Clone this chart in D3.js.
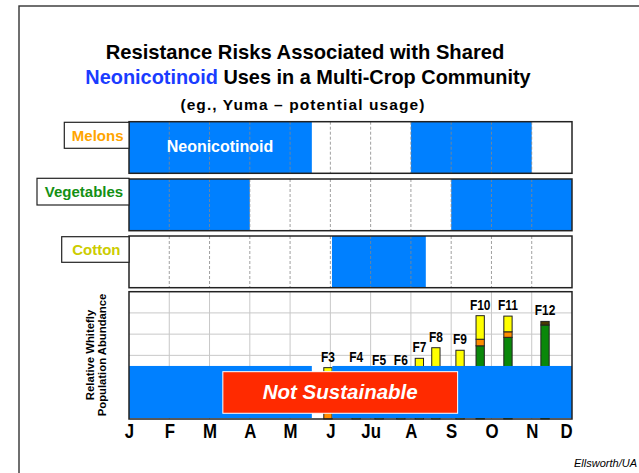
<!DOCTYPE html>
<html><head><meta charset="utf-8">
<script src="https://cdn.jsdelivr.net/npm/d3@7"></script>
<style>body{margin:0;background:#fff}svg{display:block}text{font-family:Arial,"Liberation Sans",sans-serif}</style>
</head><body>
<script>
const months = ["J","F","M","A","M","J","Ju","A","S","O","N","D"];
const crops = ["Melons","Vegetables","Cotton"];
const cropColors = ["#ffa500","#139013","#cccc00"];
const melonsUse = [[0,4.54],[7,10]];
const vegetablesUse = [[0,3],[8,11]];
const cottonUse = [[5.04,7.37]];
const cropUses = [melonsUse, vegetablesUse, cottonUse];
const bandUse = [[0,4.54],[5.05,11]];
const bandTop = 2.5;
const flushLabels = ["F3","F4","F5","F6","F7","F8","F9","F10","F11","F12"];
const flushPos   = [4.94,5.64,6.21,6.75,7.21,7.62,8.22,8.72,9.41,10.33];
const greenVals  = [0,0,0,0,0,0,0,3.45,3.85,4.43];
const orangeVals = [1.2,0,0,0,0,0,0,0.31,0.26,0];
const yellowVals = [1.22,2.42,2.24,2.24,2.86,3.36,3.24,1.11,0.74,0];
const darkVals   = [0,0,0,0,0,0,0,0,0,0.17];

const W=639,H=473;
const svg=d3.select("body").append("svg").attr("width",W).attr("height",H);
const BLUE="#0080ff";

// frame
svg.append("rect").attr("x",19).attr("y",6).attr("width",700).attr("height",600)
  .attr("fill","none").attr("stroke","#333").attr("stroke-width",1.4);

// title
const t=svg.append("g").attr("text-anchor","middle").attr("font-weight","bold");
t.append("text").attr("x",305).attr("y",59).attr("font-size",20.2).text("Resistance Risks Associated with Shared");
const l2=t.append("text").attr("x",308).attr("y",84).attr("font-size",19.9);
l2.append("tspan").attr("fill","#1a3cff").text("Neonicotinoid");
l2.append("tspan").text(" Uses in a Multi-Crop Community");
t.append("text").attr("x",303).attr("y",110).attr("font-size",15.5).attr("letter-spacing",1.1)
  .text("(eg., Yuma \u2013 potential usage)");

const x=d3.scaleLinear().domain([0,11]).range([129,572]);
const panels=[[121.7,173.3],[179,230.7],[236,287.7]];
const labelBoxes=[[64.3,122.3,148.3],[37,178.3,205],[61.7,236.7,262.3]];

crops.forEach((c,i)=>{
  const [y0,y1]=panels[i];
  const g=svg.append("g");
  g.selectAll("rect.use").data(cropUses[i]).join("rect")
    .attr("x",d=>x(d[0])).attr("width",d=>x(d[1])-x(d[0]))
    .attr("y",y0).attr("height",y1-y0).attr("fill",BLUE);
  g.selectAll("line.grid").data(d3.range(1,11)).join("line")
    .attr("x1",d=>x(d)).attr("x2",d=>x(d)).attr("y1",y0).attr("y2",y1)
    .attr("stroke","#888").attr("stroke-width",0.8).attr("stroke-dasharray","3,2");
  g.append("rect").attr("x",x(0)).attr("y",y0).attr("width",x(11)-x(0)).attr("height",y1-y0)
    .attr("fill","none").attr("stroke","#222").attr("stroke-width",1.5);
  const [bx,by0,by1]=labelBoxes[i];
  g.append("rect").attr("x",bx).attr("y",by0).attr("width",x(0)-bx).attr("height",by1-by0)
    .attr("fill","#fff").attr("stroke","#222").attr("stroke-width",1.2);
  g.append("text").attr("x",(bx+x(0))/2+1).attr("y",(by0+by1)/2+5.5)
    .attr("text-anchor","middle").attr("font-weight","bold").attr("font-size",15)
    .attr("fill",cropColors[i]).text(c);
});
svg.append("text").attr("x",220).attr("y",152).attr("text-anchor","middle")
  .attr("font-weight","bold").attr("font-size",16).attr("fill","#fff").text("Neonicotinoid");

// bottom panel
const yb=d3.scaleLinear().domain([0,6]).range([419,291.7]);
const bp=svg.append("g");
bp.selectAll("line.h").data(d3.range(1,6)).join("line")
  .attr("x1",x(0)).attr("x2",x(11)).attr("y1",d=>yb(d)).attr("y2",d=>yb(d))
  .attr("stroke","#c8c8c8").attr("stroke-width",1);
bp.selectAll("line.v").data(d3.range(1,11)).join("line")
  .attr("x1",d=>x(d)).attr("x2",d=>x(d)).attr("y1",yb(6)).attr("y2",yb(0))
  .attr("stroke","#c8c8c8").attr("stroke-width",1);

const barW=8.3;
const stacks=flushLabels.map((f,i)=>{
  const segs=[];let b=0;
  [[greenVals[i],"#0a880a"],[orangeVals[i],"#ff8c00"],[yellowVals[i],"#ffff00"],[darkVals[i],"#4a3a00"]]
    .forEach(([v,col])=>{ if(v>0){segs.push({b,t:b+v,col,pos:flushPos[i]}); b+=v;} });
  return {f,pos:flushPos[i],total:b,segs};
});
stacks.forEach(s=>{
  bp.selectAll(null).data(s.segs).join("rect")
    .attr("x",d=>x(d.pos)-barW/2).attr("width",barW)
    .attr("y",d=>yb(d.t)).attr("height",d=>yb(d.b)-yb(d.t))
    .attr("fill",d=>d.col).attr("stroke","#222").attr("stroke-width",1);
});
bp.selectAll("rect.band").data(bandUse).join("rect")
  .attr("x",d=>x(d[0])).attr("width",d=>x(d[1])-x(d[0]))
  .attr("y",yb(bandTop)).attr("height",yb(0)-yb(bandTop)-1).attr("fill",BLUE);
bp.selectAll("text.fl").data(stacks).join("text")
  .attr("transform",d=>`translate(${x(d.pos)},${yb(d.total)-6}) scale(0.92,1.1)`)
  .attr("text-anchor","middle").attr("font-weight","bold").attr("font-size",13)
  .text(d=>d.f);
// Not sustainable box
bp.append("rect").attr("x",x(2.33)).attr("y",yb(2.23)).attr("width",x(8.16)-x(2.33)).attr("height",yb(0.27)-yb(2.23))
  .attr("fill","#ff2a00").attr("stroke","#fff").attr("stroke-width",1);
bp.append("text").attr("x",(x(2.33)+x(8.16))/2).attr("y",398.5).attr("text-anchor","middle")
  .attr("font-weight","bold").attr("font-style","italic").attr("font-size",20.5).attr("fill","#fff")
  .text("Not Sustainable");
bp.append("rect").attr("x",x(0)).attr("y",yb(6)).attr("width",x(11)-x(0)).attr("height",yb(0)-yb(6))
  .attr("fill","none").attr("stroke","#222").attr("stroke-width",1.5);

// y label
const yl=svg.append("text").attr("transform","translate(95,355) rotate(-90)")
  .attr("text-anchor","middle").attr("font-weight","bold").attr("font-size",11.3);
yl.append("tspan").attr("x",0).attr("y",-1).text("Relative Whitefly");
yl.append("tspan").attr("x",0).attr("y",11).text("Population Abundance");

// x axis
const ax=svg.append("g").attr("transform","translate(0,419)")
  .call(d3.axisBottom(x).tickValues(d3.range(12)).tickFormat(i=>months[i]).tickSize(0));
ax.select(".domain").remove();
ax.selectAll(".tick text")
  .attr("y",0).attr("dy",null).attr("fill","#000")
  .attr("font-family","Arial, 'Liberation Sans', sans-serif")
  .attr("font-weight","bold").attr("font-size",21)
  .attr("transform",(d)=>`translate(${d===11?-6:0},19.3) scale(0.8,1)`);

svg.append("text").attr("x",637).attr("y",467).attr("text-anchor","end")
  .attr("font-family","'Liberation Serif','Times New Roman',serif").attr("font-style","italic")
  .attr("font-size",11).text("Ellsworth/UA");
</script>
</body></html>
